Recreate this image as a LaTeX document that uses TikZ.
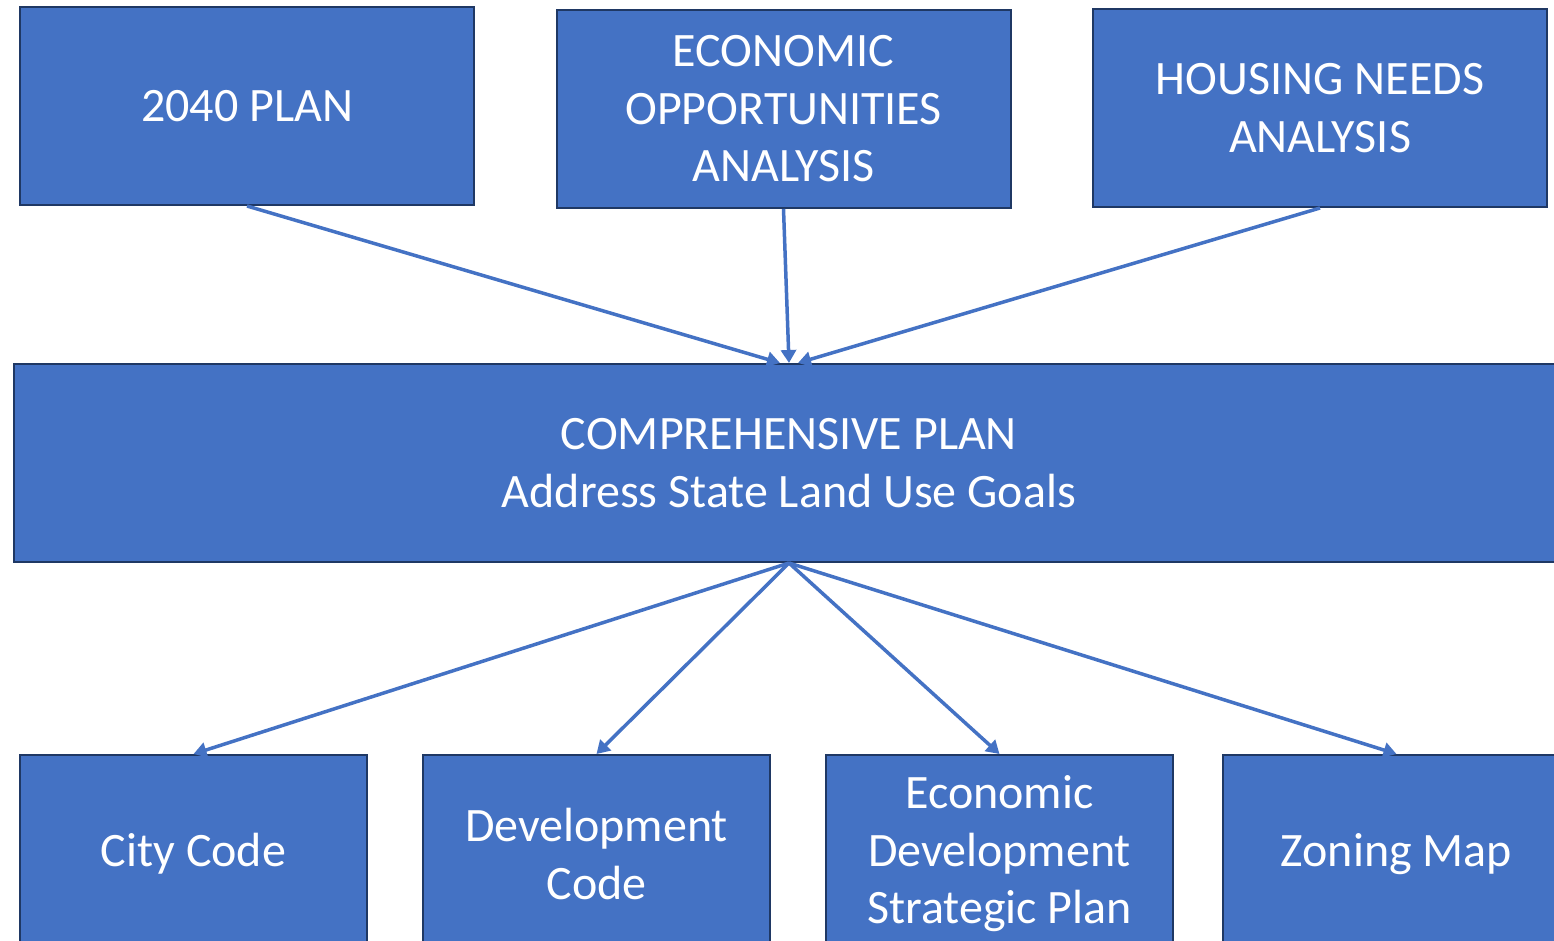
\documentclass[tikz,border=0pt]{standalone}
\usepackage{fontspec}
\setmainfont{Carlito}
\usetikzlibrary{arrows.meta,calc}
\definecolor{boxblue}{HTML}{4472C4}
\definecolor{boxedge}{HTML}{1F3864}
\tikzset{%
  >={Triangle[width=15pt,length=13pt]},
  % Specifications for style of nodes:
            base/.style = {rectangle, draw=boxedge, line width=2pt,
                           fill=boxblue, text=white, align=center,
                           inner sep=0pt, font=\fontsize{48}{57.5}\selectfont},
  source/.style = {base, minimum width=454pt, minimum height=198pt},
      plan/.style = {base, minimum width=1550pt, minimum height=198pt},
        output/.style = {base, minimum width=347pt, minimum height=198pt},
  link/.style = {->, draw=boxblue, line width=3.5pt},
}

\begin{document}
\begin{tikzpicture}[x=1pt, y=-1pt]
  \useasboundingbox (0,0) rectangle (1554,941);
  % Specification of nodes (position, etc.)
  \node (plan2040)   [source] at (247,106)    {2040 PLAN};
  \node (econ)       [source] at (783.5,109)  {ECONOMIC\\OPPORTUNITIES\\ANALYSIS};
  \node (housing)    [source] at (1320,108)   {HOUSING NEEDS\\ANALYSIS};
  \node (compplan)   [plan]   at (789,463)    {COMPREHENSIVE PLAN\\Address State Land Use Goals};
  \node (citycode)   [output] at (193.5,854)  {City Code};
  \node (devcode)    [output] at (596.5,854)  {Development\\Code};
  \node (ecodev)     [output] at (999.5,854)  {Economic\\Development\\Strategic Plan};
  \node (zoning)     [output] at (1396.5,854) {Zoning Map};
  % Specification of lines between nodes specified above
\draw[link] (plan2040.south) -- ($ (compplan.north)+(-9,0) $);
\draw[link] (econ.south) -- (compplan.north);
\draw[link] (housing.south) -- ($ (compplan.north)+(9,0) $);
\draw[link] (compplan.south) -- (citycode.north);
\draw[link] (compplan.south) -- (devcode.north);
\draw[link] (compplan.south) -- (ecodev.north);
\draw[link] (compplan.south) -- (zoning.north);
\end{tikzpicture}
\end{document}
